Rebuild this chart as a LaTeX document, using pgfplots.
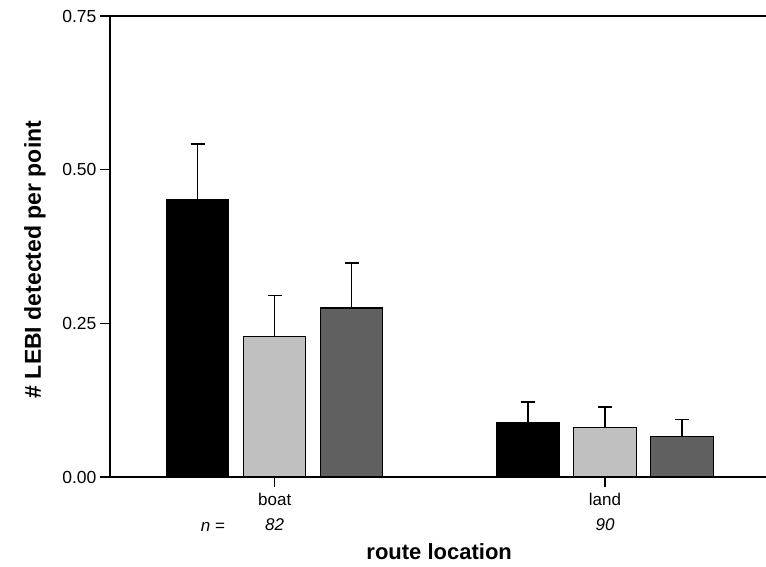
\documentclass[border=0pt]{standalone}
\usepackage{pgfplots}
\pgfplotsset{compat=1.18}
\usepackage{fontspec}
\setmainfont{Liberation Sans}
\definecolor{lgray}{HTML}{C0C0C0}
\definecolor{dgray}{HTML}{606060}
\pgfplotsset{
  errbar/.style={
    error bars/.cd, y dir=plus, y explicit,
    error bar style={line width=1.4pt, black, solid},
    error mark options={rotate=90, mark size=7pt, line width=1.4pt, black}
  }
}
\begin{document}
\begin{tikzpicture}
\path[use as bounding box] (-110pt,-89pt) rectangle (656pt,477pt);
\begin{axis}[
  at={(0,0)}, anchor=south west,
  scale only axis, width=656pt, height=461pt,
  xmin=-0.4986, xmax=1.4874, ymin=0, ymax=0.75,
  axis x line*=box, axis y line*=left,
  axis line style={line width=1.4pt, -},
  xtick pos=bottom, ytick pos=left,
  tick align=outside, major tick length=10pt,
  tick style={line width=1.4pt, black},
  xtick={0,1},
  xticklabels={{boat\\\textit{82}},{land\\\textit{90}}},
  xticklabel style={align=center, font=\fontsize{17}{25}\selectfont, yshift=-3pt},
  ytick={0,0.25,0.5,0.75},
  yticklabel style={font=\fontsize{17.5}{20}\selectfont},
  /pgf/number format/.cd, fixed, fixed zerofill, precision=2, assume math mode=true,
  /pgfplots/.cd,
  ybar=14.5pt, bar width=62.5pt,
  xlabel={\textbf{route location}},
  ylabel={\textbf{\# LEBI detected per point}},
  xlabel style={font=\fontsize{22}{26}\selectfont, at={(axis description cs:0.5018,-0.1785)}, anchor=base},
  ylabel style={font=\fontsize{23}{27}\selectfont, at={(axis description cs:-0.1143,0.4718)}, anchor=center},
]
\addplot[fill=black, draw=black, line width=1.1pt, errbar] coordinates {(0,0.452) +- (0,0.090) (1,0.0878) +- (0,0.034)};
\addplot[fill=lgray, draw=black, line width=1.1pt, errbar] coordinates {(0,0.228) +- (0,0.067) (1,0.080) +- (0,0.034)};
\addplot[fill=dgray, draw=black, line width=1.1pt, errbar] coordinates {(0,0.275) +- (0,0.073) (1,0.0656) +- (0,0.028)};
\end{axis}
\node[font=\fontsize{17}{20}\selectfont, anchor=base] at (103pt,-54pt) {\textit{n} =};
\end{tikzpicture}
\end{document}
